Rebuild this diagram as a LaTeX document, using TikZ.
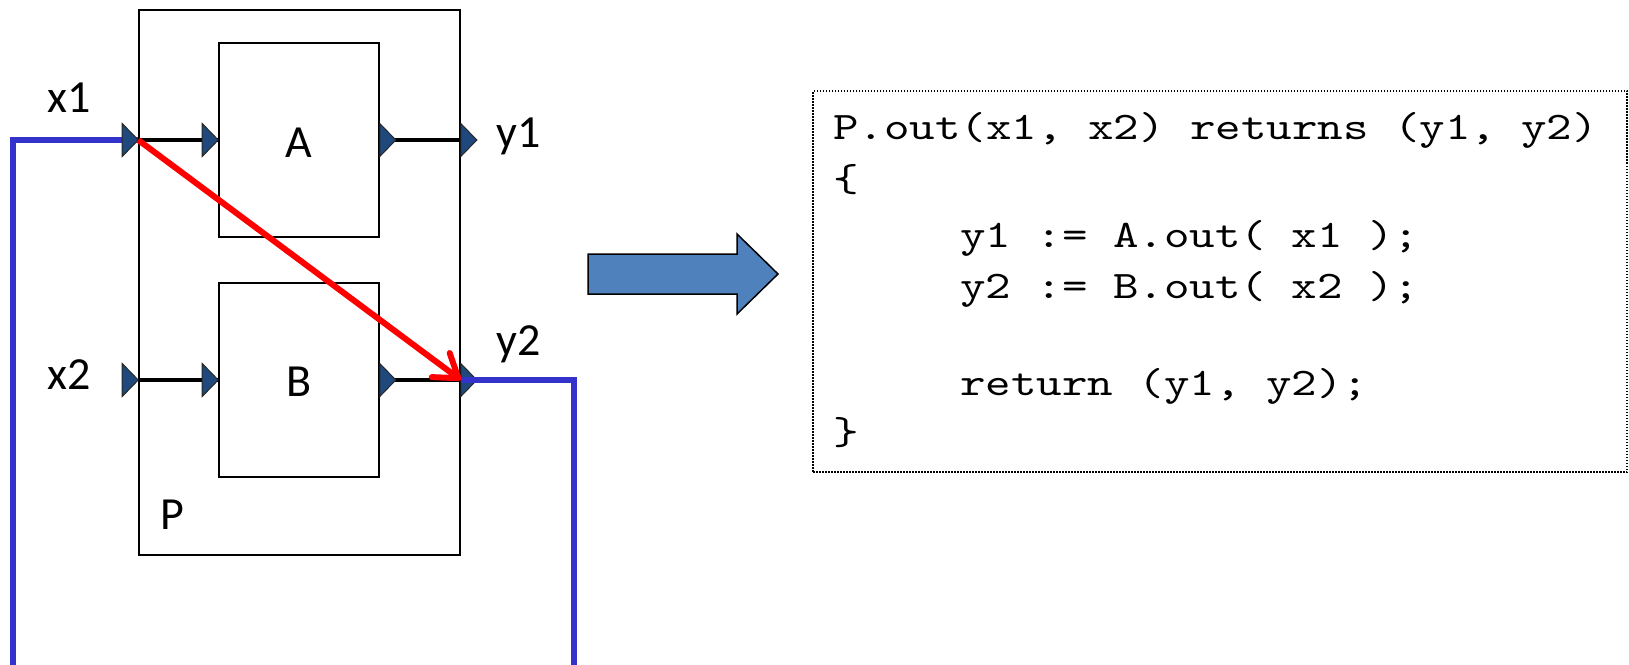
\documentclass[tikz,border=0pt]{standalone}
\usepackage{fontspec}
\setmainfont{Carlito}
\newfontfamily\codefont[FakeStretch=1.245]{lmmono10-regular.otf}
\usetikzlibrary{arrows.meta}
\definecolor{portblue}{RGB}{31,73,125}
\definecolor{arrowblue}{RGB}{79,129,189}
\definecolor{wireblue}{RGB}{51,51,204}
\newcommand\myportin[1]{\filldraw[port] (#1) -- ++(-16,-16.5) -- ++(0,33) -- cycle;}
\newcommand\myportout[1]{\filldraw[port] (#1) ++(0,-16.5) -- ++(16,16.5) -- ++(-16,16.5) -- cycle;}
\begin{document}
\begin{tikzpicture}[x=1pt,y=-1pt,
  box/.style={draw, line width=1.6pt, inner sep=0pt},
  wire/.style={line width=4.5pt},
  bwire/.style={line width=6pt, wireblue},
  port/.style={fill=portblue, draw=black!85, line width=1pt},
  lab/.style={font=\fontsize{46}{50}\selectfont, inner sep=0pt},
  code/.style={font=\codefont\fontsize{39}{50}\selectfont, inner sep=0pt, anchor=base west}]
\useasboundingbox (0,0) rectangle (1629,664);
% boxes
\node[box, minimum width=321pt, minimum height=545pt] (P) at (299.5,282.5) {};
\node[box, minimum width=160pt, minimum height=194pt] (A) at (299,140) {};
\node[box, minimum width=160pt, minimum height=194pt] (B) at (299,380) {};
% port coordinates
\coordinate (px1) at (P.west |- A.west);
\coordinate (px2) at (P.west |- B.west);
\coordinate (py1) at (P.east |- A.east);
\coordinate (py2) at (P.east |- B.east);
\coordinate (lowL) at (13,668);
\coordinate (lowR) at (574,668);
% wires
\draw[bwire] (px1) -| (lowL);
\draw[wire] (px1) -- (A.west);
\draw[wire] (px2) -- (B.west);
\draw[wire] (A.east) -- (py1);
\draw[wire] (B.east) -- (py2);
% ports
\myportin{px1}
\myportin{px2}
\myportin{A.west}
\myportin{B.west}
\myportout{A.east}
\myportout{B.east}
\myportout{py1}
\myportout{py2}
\draw[bwire] (py2) -| (lowR);
\draw[red, line width=6pt, -{Straight Barb[length=22pt,width=30pt,round]}] (px1) -- (py2);
% labels
\node[lab, anchor=base west] (lx1) at (47,112) {x1};
\node[lab, anchor=base west] (lx2) at (47,389) {x2};
\node[lab, anchor=base west] (ly1) at (496,147) {y1};
\node[lab, anchor=base west] (ly2) at (496,355) {y2};
\node[lab, anchor=base] (lA) at (299,157) {A};
\node[lab, anchor=base] (lB) at (299,396) {B};
\node[lab, anchor=base west] (lP) at (160,529) {P};
% big arrow
\filldraw[fill=arrowblue, draw=black, line width=1.5pt] (588,254) -- (737,254) -- (737,234) -- (778,274) -- (737,314) -- (737,294) -- (588,294) -- cycle;
% code box
\node[draw, dash pattern=on 1.5pt off 1.5pt, line width=1.2pt, minimum width=814pt, minimum height=381pt, inner sep=0pt] (codebox) at (1220,281.5) {};
\node[code] (c1) at (833,139) {P.out(x1, x2) returns (y1, y2)};
\node[code] (c2) at (833,191) {\{};
\node[code] (c3) at (960,247) {y1 := A.out( x1 );};
\node[code] (c4) at (960,298) {y2 := B.out( x2 );};
\node[code] (c5) at (960,395) {return (y1, y2);};
\node[code] (c6) at (833,444) {\}};
\end{tikzpicture}
\end{document}
